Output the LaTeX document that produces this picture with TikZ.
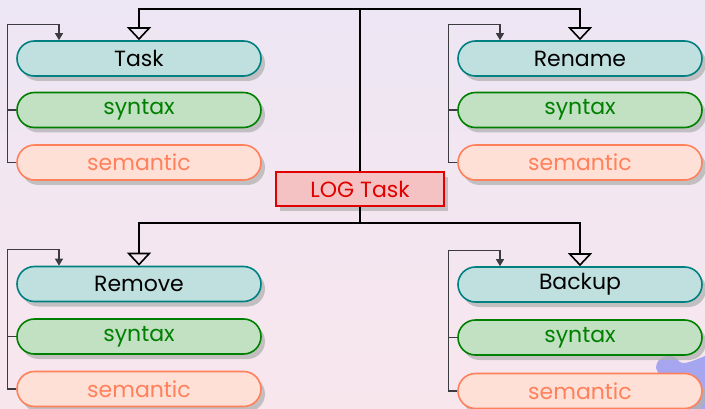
\documentclass[tikz,border=0pt]{standalone}
\usepackage{fontspec}
\setmainfont{Poppins}
\usetikzlibrary{arrows.meta,shadows}

\definecolor{bgtop}{RGB}{237,230,244}
\definecolor{bgbot}{RGB}{248,230,237}
\definecolor{taskfill}{RGB}{192,224,224}
\definecolor{taskline}{RGB}{0,128,128}
\definecolor{synfill}{RGB}{194,224,194}
\definecolor{synline}{RGB}{0,128,0}
\definecolor{semfill}{RGB}{255,224,214}
\definecolor{semline}{RGB}{255,128,90}
\definecolor{logfill}{RGB}{244,194,194}
\definecolor{logline}{RGB}{224,0,0}
\definecolor{blob}{RGB}{166,166,240}
\definecolor{subline}{RGB}{60,60,64}

\tikzset{
  boxshadow/.style={drop shadow={shadow xshift=4pt,shadow yshift=-5pt,fill=black!30,opacity=0.75}},
  pill/.style={boxshadow,rounded corners=17.5pt,minimum width=244pt,minimum height=35pt,
    line width=1.6pt,font=\fontsize{22}{24}\selectfont,inner sep=0pt},
  taskbox/.style={pill,fill=taskfill,draw=taskline,text=black},
  synbox/.style={pill,fill=synfill,draw=synline,text=synline},
  sembox/.style={pill,fill=semfill,draw=semline,text=semline},
  logbox/.style={boxshadow,fill=logfill,draw=logline,text=logline,line width=1.6pt,
    minimum width=168pt,minimum height=34pt,font=\fontsize{22}{24}\selectfont,inner sep=0pt},
  mainlink/.style={line width=1.6pt,black,-{Triangle[open,length=13pt,width=24pt,line width=1.6pt]}},
  sublink/.style={line width=1.1pt,subline},
  subarrow/.style={sublink,-{Triangle[length=7pt,width=8pt]}}
}

\begin{document}
\begin{tikzpicture}[x=1pt,y=-1pt]
  % background
  \shade[top color=bgtop,bottom color=bgbot] (0,0) rectangle (705,409);
  \useasboundingbox (0,0) rectangle (705,409);

  % decorative blob in the lower right corner
  \fill[blob] (656,368) .. controls (656,356) and (672,352) .. (678,360)
    .. controls (682,366) and (690,362) .. (705,356) -- (705,409) -- (690,409)
    .. controls (688,395) and (662,385) .. (656,368) -- cycle;

  % Log Task
  \node[logbox] (log) at (360,189) {LOG Task};

  % Task group
  \node[taskbox] (t1) at (139,58.5) {Task};
  \node[synbox]  (s1) at (139,110) {syntax};
  \node[sembox]  (m1) at (139,162.5) {semantic};

  % Rename group
  \node[taskbox] (t2) at (580,58.5) {Rename};
  \node[synbox]  (s2) at (580,110) {syntax};
  \node[sembox]  (m2) at (580,162.5) {semantic};

  % Remove group
  \node[taskbox] (t3) at (139,284) {Remove};
  \node[synbox]  (s3) at (139,336.5) {syntax};
  \node[sembox]  (m3) at (139,389) {semantic};

  % Backup group
  \node[taskbox] (t4) at (580,284.5) {Backup};
  \node[synbox]  (s4) at (580,337.5) {syntax};
  \node[sembox]  (m4) at (580,391) {semantic};

  % main tree links
  \coordinate (topbar) at (360,9);
  \coordinate (botbar) at (360,223);
  \draw[mainlink] (log.north) -- (topbar) -| (t1.north);
  \draw[mainlink] (topbar) -| (t2.north);
  \draw[mainlink] (log.south) -- (botbar) -| (t3.north);
  \draw[mainlink] (botbar) -| (t4.north);

  % inner links of each group
  \foreach \t/\s/\m in {t1/s1/m1,t2/s2/m2,t3/s3/m3,t4/s4/m4}{
    \draw[subarrow] (\m.west) -- ++(-9,0) |- ([xshift=-80pt,yshift=16pt]\t.north)
      -- ([xshift=-80pt]\t.north);
    \draw[sublink] (\s.west) -- ++(-9,0);
  }
\end{tikzpicture}
\end{document}
